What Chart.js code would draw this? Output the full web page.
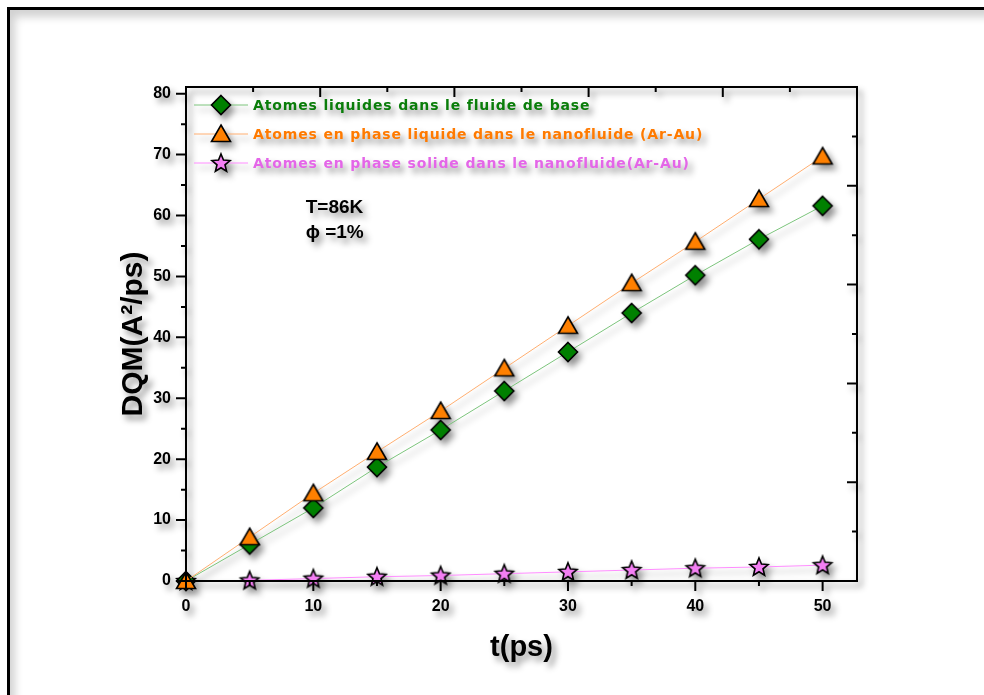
<!DOCTYPE html>
<html>
<head>
<meta charset="utf-8">
<script src="https://cdn.jsdelivr.net/npm/chart.js@4/dist/chart.umd.min.js"></script>
<style>
  html, body { margin: 0; padding: 0; background: #ffffff; }
  #stage { position: relative; width: 984px; height: 695px; overflow: hidden; background: #fff; }
  #frame { position: absolute; left: 7px; top: 7px; width: 1100px; height: 1100px;
           border: 3px solid #000; box-sizing: border-box;
           box-shadow: inset 5px 7px 8px rgba(0,0,0,0.18); }
  #c { position: absolute; left: 0; top: 0;
       filter: drop-shadow(4px 5px 3px rgba(0,0,0,0.42)); }
</style>
</head>
<body>
<div id="stage">
  <div id="frame"></div>
  <canvas id="c" width="984" height="695"></canvas>
</div>
<script>
// ---- data ----
const timePs = [0, 5, 10, 15, 20, 25, 30, 35, 40, 45, 50];
const liquidBase = [0, 6.0, 12.0, 18.7, 24.8, 31.2, 37.6, 44.0, 50.2, 56.1, 61.6];
const liquidNano = [0, 7.2, 14.4, 21.2, 27.9, 34.9, 41.9, 48.9, 55.7, 62.7, 69.7];
const solidNano  = [0, 0.1, 0.4, 0.7, 0.9, 1.2, 1.5, 1.8, 2.1, 2.3, 2.6];
const seriesLabels = [
  'Atomes liquides dans le fluide de base',
  'Atomes en phase liquide dans le nanofluide (Ar-Au)',
  'Atomes en phase solide dans le nanofluide(Ar-Au)'
];
const xTickValues = [0, 10, 20, 30, 40, 50];
const yTickValues = [0, 10, 20, 30, 40, 50, 60, 70, 80];
const xTitle = 't(ps)';
const yTitle = 'DQM(A\u00B2/ps)';
const noteLines = ['T=86K', '\u03D5 =1%'];

// ---- marker images ----
function markerCanvas(kind, fill) {
  const s = 26, c = document.createElement('canvas');
  c.width = s; c.height = s;
  const g = c.getContext('2d');
  const m = s / 2;
  g.beginPath();
  if (kind === 'diamond') {
    const r = 9.5;
    g.moveTo(m, m - r); g.lineTo(m + r, m); g.lineTo(m, m + r); g.lineTo(m - r, m);
  } else if (kind === 'triangle') {
    g.moveTo(m, m - 9); g.lineTo(m + 9.5, m + 7.5); g.lineTo(m - 9.5, m + 7.5);
  } else {
    const R = 9.5, r = 4.2;
    for (let i = 0; i < 10; i++) {
      const a = -Math.PI / 2 + i * Math.PI / 5;
      const rr = i % 2 === 0 ? R : r;
      const px = m + rr * Math.cos(a), py = m + 0.5 + rr * Math.sin(a);
      i === 0 ? g.moveTo(px, py) : g.lineTo(px, py);
    }
  }
  g.closePath();
  g.fillStyle = fill; g.fill();
  g.lineWidth = 1.6; g.strokeStyle = '#000'; g.lineJoin = 'miter'; g.stroke();
  return c;
}
const mkDiamond = markerCanvas('diamond', '#008000');
const mkTriangle = markerCanvas('triangle', '#ff8000');
const mkStar = markerCanvas('star', '#f47ff4');

const toXY = arr => timePs.map((t, i) => ({ x: t, y: arr[i] }));

const seriesStyle = [
  { line: '#7cc47c', text: '#0a7d0a', img: mkDiamond },
  { line: '#ffae70', text: '#ff7a00', img: mkTriangle },
  { line: '#ff8cff', text: '#e466e8', img: mkStar }
];

// ---- plugin: box, ticks, legend, annotation ----
const decor = {
  id: 'decor',
  afterDraw(chart) {
    const ctx = chart.ctx, a = chart.chartArea;
    const xs = chart.scales.x, ys = chart.scales.y;
    ctx.save();
    ctx.strokeStyle = '#000';
    ctx.lineWidth = 2;
    ctx.strokeRect(a.left, a.top, a.right - a.left, a.bottom - a.top);
    ctx.beginPath();
    for (let v = 0; v <= 80; v += 5) {
      const y = ys.getPixelForValue(v), len = v % 10 === 0 ? 10 : 5;
      ctx.moveTo(a.left - len, y); ctx.lineTo(a.left, y);
    }
    for (let v = 0; v <= 50; v += 5) {
      const x = xs.getPixelForValue(v), len = v % 10 === 0 ? 10 : 5;
      ctx.moveTo(x, a.bottom); ctx.lineTo(x, a.bottom + len);
    }
    for (let i = 0; i <= 10; i++) {
      const len = i % 2 === 0 ? 10 : 5;
      const x = a.left + (a.right - a.left) * i / 10;
      ctx.moveTo(x, a.top); ctx.lineTo(x, a.top + len);
      const y = a.bottom - (a.bottom - a.top) * i / 10;
      ctx.moveTo(a.right, y); ctx.lineTo(a.right - len, y);
    }
    ctx.stroke();

    // legend
    ctx.font = 'bold 14px "DejaVu Sans", sans-serif';
    if ('letterSpacing' in ctx) ctx.letterSpacing = '0.85px';
    ctx.textBaseline = 'middle';
    ctx.textAlign = 'left';
    const rows = [105, 134, 163];
    seriesLabels.forEach((lab, i) => {
      const st = seriesStyle[i], y = rows[i];
      ctx.strokeStyle = st.line; ctx.lineWidth = 1;
      ctx.beginPath(); ctx.moveTo(194, y); ctx.lineTo(248, y); ctx.stroke();
      ctx.drawImage(st.img, 221 - st.img.width / 2, y - st.img.height / 2);
      ctx.fillStyle = st.text;
      ctx.fillText(lab, 253, y + 1);
    });
    if ('letterSpacing' in ctx) ctx.letterSpacing = '0px';

    // annotation
    ctx.fillStyle = '#000';
    ctx.font = 'bold 19px "Liberation Sans", Arial, sans-serif';
    const ax = xs.getPixelForValue(9.4);
    ctx.fillText(noteLines[0], ax, ys.getPixelForValue(61.3));
    ctx.fillText(noteLines[1], ax, ys.getPixelForValue(57.1));
    ctx.restore();
  }
};

const tickFont = { family: '"Liberation Sans", Arial, sans-serif', size: 16, weight: 'bold' };

new Chart(document.getElementById('c'), {
  type: 'line',
  data: {
    datasets: [liquidBase, liquidNano, solidNano].map((arr, i) => ({
      label: seriesLabels[i],
      data: toXY(arr),
      borderColor: seriesStyle[i].line,
      backgroundColor: seriesStyle[i].line,
      borderWidth: 1,
      pointStyle: seriesStyle[i].img,
      pointRadius: 10,
      pointHoverRadius: 10,
      tension: 0,
      fill: false,
      clip: false,
      order: [1, 0, 2][i]
    }))
  },
  options: {
    responsive: false,
    animation: false,
    events: [],
    layout: { padding: { left: 0, top: 87, right: 127, bottom: 0 } },
    plugins: { legend: { display: false }, tooltip: { enabled: false } },
    scales: {
      x: {
        type: 'linear', min: 0, max: 52.7,
        afterBuildTicks: s => { s.ticks = xTickValues.map(v => ({ value: v })); },
        afterFit: s => { s.height = 114; },
        grid: { display: false, drawTicks: false },
        border: { display: false },
        ticks: { color: '#000', font: tickFont, padding: 16, maxRotation: 0 },
        title: { display: true, text: xTitle, color: '#000',
                 font: { family: '"Liberation Sans", Arial, sans-serif', size: 29, weight: 'bold' },
                 padding: { top: 0, bottom: 30 } }
      },
      y: {
        type: 'linear', min: 0, max: 81.1,
        afterBuildTicks: s => { s.ticks = yTickValues.map(v => ({ value: v })); },
        afterFit: s => { s.width = 186; },
        grid: { display: false, drawTicks: false },
        border: { display: false },
        ticks: { color: '#000', font: tickFont, padding: 15 },
        title: { display: true, text: yTitle, color: '#000',
                 font: { family: '"Liberation Sans", Arial, sans-serif', size: 30, weight: 'bold' },
                 padding: { top: 116, bottom: 0 } }
      }
    }
  },
  plugins: [decor]
});
</script>
</body>
</html>
